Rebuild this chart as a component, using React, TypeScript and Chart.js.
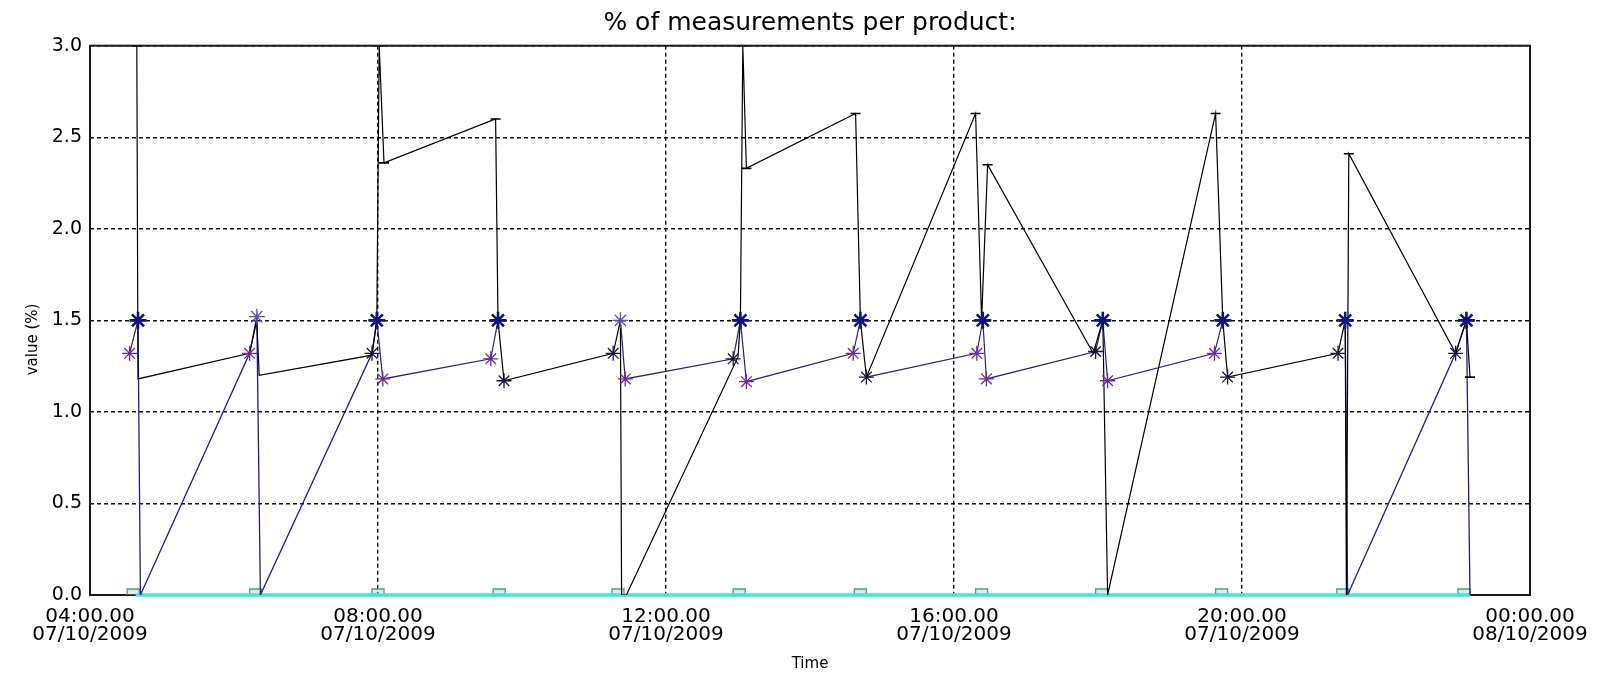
import React, { useEffect, useRef } from "react";
import { Chart, registerables } from "chart.js";

Chart.register(...registerables);

const FONT = "'DejaVu Sans', 'Liberation Sans', sans-serif";

// ---- data (time of day on 07/10/2009, value in %) ----
const xTickLabels = [
  ["04:00.00", "07/10/2009"],
  ["08:00.00", "07/10/2009"],
  ["12:00.00", "07/10/2009"],
  ["16:00.00", "07/10/2009"],
  ["20:00.00", "07/10/2009"],
  ["00:00.00", "08/10/2009"],
];

const blackTimes = ["04:39", "04:40", "06:13", "06:19", "06:21", "07:55", "07:59", "08:01", "08:05", "09:38", "09:40", "09:45", "11:16", "11:22", "11:23", "11:27", "13:00", "13:02", "13:04", "13:07", "14:38", "14:42", "14:47", "16:18", "16:23", "16:28", "17:56", "18:04", "18:08", "19:38", "19:44", "19:48", "21:20", "21:26", "21:27", "21:29", "22:58", "23:07", "23:10"];
const blackValues = [3.0, 1.18, 1.32, 1.5, 1.2, 1.31, 1.5, 3.0, 2.36, 2.6, 1.5, 1.17, 1.32, 1.5, 0, 0, 1.3, 1.5, 3.0, 2.33, 2.63, 1.5, 1.19, 2.63, 1.5, 2.35, 1.32, 1.5, 0, 2.63, 1.5, 1.19, 1.32, 1.5, 0, 2.41, 1.32, 1.5, 1.19];

const navyTimes = ["04:40", "04:42", "06:13", "06:19", "06:22", "07:55", "07:59", "08:30", "21:26", "21:28", "22:58", "23:07", "23:10"];
const navyValues = [1.5, 0, 1.32, 1.52, 0, 1.32, 1.5, null, 1.5, 0, 1.32, 1.5, 0];

const purpleTimes = ["04:33", "04:40", "05:00", "07:59", "08:04", "09:34", "09:40", "10:00", "11:22", "11:26", "12:56", "13:02", "13:07", "14:36", "14:42", "14:44", "14:47", "16:19", "16:24", "16:27", "17:58", "18:04", "18:08", "19:37", "19:44"];
const purpleValues = [1.32, 1.5, null, 1.5, 1.18, 1.29, 1.5, null, 1.5, 1.18, 1.29, 1.5, 1.165, 1.32, 1.5, null, 1.19, 1.32, 1.5, 1.18, 1.33, 1.5, 1.17, 1.32, 1.5];

const navyStarTimes = ["04:40", "07:59", "09:40", "13:02", "14:42", "16:24", "18:04", "19:44", "21:26", "23:07"];
const navyStarValues = [1.5, 1.5, 1.5, 1.5, 1.5, 1.5, 1.5, 1.5, 1.5, 1.5];

const lightStarTimes = ["06:19", "11:22"];
const lightStarValues = [1.52, 1.5];

const purpleStarTimes = ["04:33", "06:13", "08:04", "09:34", "11:26", "13:07", "14:36", "16:19", "16:27", "18:08", "19:37"];
const purpleStarValues = [1.32, 1.32, 1.18, 1.29, 1.18, 1.165, 1.32, 1.32, 1.18, 1.17, 1.32];

const darkStarTimes = ["07:55", "09:45", "11:16", "12:56", "14:47", "17:58", "19:48", "21:20", "22:58"];
const darkStarValues = [1.32, 1.17, 1.32, 1.29, 1.19, 1.33, 1.19, 1.32, 1.32];

const capTimes = ["04:39", "08:01", "08:05", "09:38", "13:04", "13:07", "14:38", "16:18", "16:28", "19:38", "21:29", "23:10"];
const capValues = [3.0, 3.0, 2.36, 2.6, 3.0, 2.33, 2.63, 2.63, 2.35, 2.63, 2.41, 1.19];

const squareTimes = ["04:36", "06:18", "08:00", "09:41", "11:20", "13:01", "14:42", "16:23", "18:03", "19:43", "21:24", "23:05"];
const squareValues = [0, 0, 0, 0, 0, 0, 0, 0, 0, 0, 0, 0];

const cyanTimes = ["04:38", "06:20", "08:01", "09:42", "11:22", "13:03", "14:43", "16:24", "18:05", "19:45", "21:26", "23:10"];
const cyanValues = [0, 0, 0, 0, 0, 0, 0, 0, 0, 0, 0, 0];

// ---- helpers ----
const toMin = (t: string) => {
  const [h, m] = t.split(":").map(Number);
  return h * 60 + m - 240; // minutes after 04:00
};
const pts = (times: string[], values: (number | null)[]) =>
  times.map((t, i) => ({ x: toMin(t), y: values[i] }));

const boxPlugin = {
  id: "plotBox",
  beforeDatasetsDraw(chart: any) {
    const { ctx, chartArea: a } = chart;
    ctx.save();
    ctx.strokeStyle = "#1a1a1a";
    ctx.lineWidth = 2;
    ctx.strokeRect(a.left, a.top, a.right - a.left, a.bottom - a.top);
    ctx.restore();
  },
};

const lineDs = (label: string, data: any[], color: string, width: number, order: number) => ({
  label,
  data,
  borderColor: color,
  backgroundColor: color,
  borderWidth: width,
  pointRadius: 0,
  tension: 0,
  spanGaps: false,
  fill: false,
  order,
});

const starDs = (label: string, data: any[], color: string, radius: number, width: number, order: number) => ({
  label,
  data,
  showLine: false,
  pointStyle: "star",
  pointRadius: radius,
  pointBorderColor: color,
  pointBackgroundColor: color,
  pointBorderWidth: width,
  borderColor: color,
  order,
});

export default function App() {
  const ref = useRef<HTMLCanvasElement>(null);

  useEffect(() => {
    if (!ref.current) return;
    Chart.defaults.font.family = FONT;
    const gridOpts = { color: "#111", lineWidth: 1.4, drawTicks: false };
    const chart = new Chart(ref.current, {
      type: "line",
      data: {
        datasets: [
          {
            label: "caps",
            data: pts(capTimes, capValues),
            showLine: false,
            pointStyle: "line",
            pointRadius: 5,
            pointBorderColor: "#000",
            borderColor: "#000",
            pointBorderWidth: 1.6,
            order: 1,
          } as any,
          starDs("product 1", pts(navyStarTimes, navyStarValues), "#12127a", 8.5, 2.6, 2),
          starDs("product 2", pts(lightStarTimes, lightStarValues), "#5b4fb0", 8, 1.3, 3),
          starDs("product 3", pts(purpleStarTimes, purpleStarValues), "#6a2a9e", 7.5, 1.3, 3),
          starDs("product 4", pts(darkStarTimes, darkStarValues), "#1c1238", 7.5, 1.3, 3),
          lineDs("black", pts(blackTimes, blackValues), "#000000", 1.2, 5),
          lineDs("navy", pts(navyTimes, navyValues), "#1c1c8c", 1.3, 6),
          lineDs("purple", pts(purpleTimes, purpleValues), "#2e1f6e", 1.2, 6),
          { ...lineDs("cyan", pts(cyanTimes, cyanValues), "#3fe6dc", 3.5, 8), clip: false } as any,
          {
            label: "zero",
            data: pts(squareTimes, squareValues),
            showLine: false,
            pointStyle: "rect",
            pointRadius: 8.5,
            pointBorderColor: "rgba(70,150,120,0.95)",
            pointBackgroundColor: "rgba(150,210,190,0.35)",
            pointBorderWidth: 1.3,
            borderColor: "rgba(70,150,120,0.95)",
            order: 9,
          } as any,
        ],
      },
      options: {
        animation: false,
        responsive: true,
        maintainAspectRatio: false,
        events: [],
        layout: { padding: { left: 0, right: 71, top: 0, bottom: 0 } },
        plugins: {
          legend: { display: false },
          tooltip: { enabled: false },
          title: {
            display: true,
            fullSize: false,
            text: "% of measurements per product:",
            color: "#000",
            font: { family: FONT, size: 25, weight: "normal", lineHeight: 1.2 },
            padding: { top: 8, bottom: 7.7 },
          },
        },
        scales: {
          x: {
            type: "linear",
            min: 0,
            max: 1200,
            afterFit: (s: any) => {
              s.height = 84;
            },
            ticks: {
              stepSize: 240,
              autoSkip: false,
              maxRotation: 0,
              padding: 13,
              color: "#000",
              font: { family: FONT, size: 20, lineHeight: 0.9 },
              callback: (v: any) => xTickLabels[Math.round(Number(v) / 240)] ?? "",
            },
            grid: gridOpts,
            border: { display: false, dash: [4, 3] },
            title: {
              display: true,
              text: "Time",
              color: "#000",
              font: { family: FONT, size: 15, lineHeight: 1 },
              padding: { top: 0, bottom: 7 },
            },
          },
          y: {
            min: 0,
            max: 3,
            afterFit: (s: any) => {
              s.width = 90;
            },
            ticks: {
              stepSize: 0.5,
              padding: 8,
              color: "#000",
              font: { family: FONT, size: 19 },
              callback: (v: any) => Number(v).toFixed(1),
            },
            grid: gridOpts,
            border: { display: false, dash: [4, 3] },
            title: {
              display: true,
              text: "value (%)        ",
              color: "#000",
              font: { family: FONT, size: 15, lineHeight: 1 },
              padding: { top: 26, bottom: 0 },
            },
          },
        },
      } as any,
      plugins: [boxPlugin],
    });
    return () => chart.destroy();
  }, []);

  return (
    <div
      style={{
        position: "absolute",
        left: 0,
        top: 0,
        width: 1601,
        height: 679,
        background: "#fff",
      }}
    >
      <canvas ref={ref} />
    </div>
  );
}
